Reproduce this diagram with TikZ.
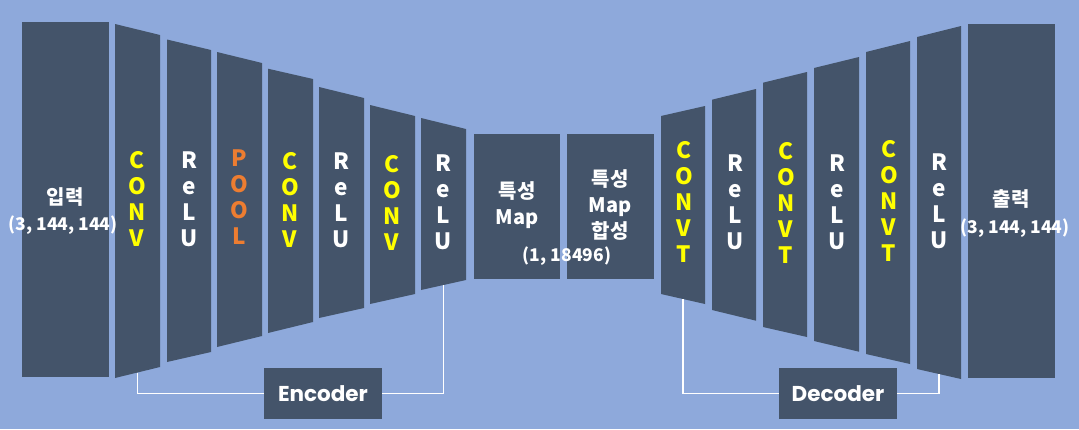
\documentclass[tikz,border=0pt]{standalone}
\usepackage{fontspec}
\setmainfont{Noto Sans CJK KR}
\newfontfamily\popfont{Poppins}
\usetikzlibrary{calc}
\definecolor{bg}{HTML}{8EA9DB}
\definecolor{boxc}{HTML}{44546A}
\definecolor{yel}{HTML}{FFFF00}
\definecolor{ora}{HTML}{ED7D31}
\newcommand\mytrap[7]{%
  \fill[boxc] (#2,#4) -- (#3,#6) -- (#3,#7) -- (#2,#5) -- cycle;
  \coordinate (#1-bl) at (#2,#5);
  \coordinate (#1-br) at (#3,#7);
  \coordinate (#1-b) at ($(#1-bl)!0.5!(#1-br)$);}
\begin{document}
\begin{tikzpicture}[x=1pt,y=-1pt,
  stackc/.style={font=\bfseries\fontsize{22.5}{26}\selectfont, align=center, inner sep=0pt, text=white},
  bigtxt/.style={font=\bfseries\fontsize{20}{26}\selectfont, align=center, inner sep=0pt, text=white},
  dimtxt/.style={font=\bfseries\fontsize{17.5}{20}\selectfont, inner sep=0pt, text=white},
  rectbox/.style={fill=boxc, inner sep=0pt},
  labbox/.style={fill=boxc, inner sep=0pt, minimum width=118pt, minimum height=51pt, text=white, font=\popfont\bfseries\fontsize{21.5}{24}\selectfont},
  brline/.style={draw=white, line width=1.1pt}]
\useasboundingbox (0,0) rectangle (1079,429);
\fill[bg] (0,0) rectangle (1079,429);

% input / output / middle boxes
\node[rectbox, minimum width=87pt, minimum height=355pt] (inbox) at (65.5,199.5) {};
\node[rectbox, minimum width=87pt, minimum height=354pt] (outbox) at (1011.5,201) {};
\node[rectbox, minimum width=86pt, minimum height=145pt] (fmap) at (517,206.5) {};
\node[rectbox, minimum width=87pt, minimum height=145pt] (fsum) at (610.5,206.5) {};

% encoder trapezoids
\mytrap{t1}{115}{160}{24}{378}{35}{367}
\mytrap{t2}{167}{211}{39.5}{362}{50}{352}
\mytrap{t3}{217}{262}{52}{347}{63}{336}
\mytrap{t4}{268}{313}{68.7}{333}{79}{322}
\mytrap{t5}{319}{364}{87}{318}{98}{308}
\mytrap{t6}{370}{415}{105}{304}{116}{294}
\mytrap{t7}{421}{466}{118}{290}{129}{280}
% decoder trapezoids
\mytrap{t8}{661}{705}{116}{294}{106}{304}
\mytrap{t9}{712}{756}{99.7}{310}{89}{320.7}
\mytrap{t10}{763}{807}{82.7}{327}{72}{337}
\mytrap{t11}{814}{859}{68}{341}{57}{351.7}
\mytrap{t12}{866}{910}{52}{354}{41}{364}
\mytrap{t13}{917}{961}{37}{369}{26}{379}

% layer labels
\node[stackc, text=yel] (l1) at (137,199) {C\\O\\N\\V};
\node[stackc] (l2) at (189,199.5) {R\\e\\L\\U};
\node[stackc, text=ora] (l3) at (239,197.5) {P\\O\\O\\L};
\node[stackc, text=yel] (l4) at (290,199.5) {C\\O\\N\\V};
\node[stackc] (l5) at (341,200) {R\\e\\L\\U};
\node[stackc, text=yel] (l6) at (392,202.5) {C\\O\\N\\V};
\node[stackc] (l7) at (443,202.5) {R\\e\\L\\U};
\node[stackc, text=yel] (l8) at (684,202) {C\\O\\N\\V\\T};
\node[stackc] (l9) at (735,202.5) {R\\e\\L\\U};
\node[stackc, text=yel] (l10) at (786,203) {C\\O\\N\\V\\T};
\node[stackc] (l11) at (837,202.5) {R\\e\\L\\U};
\node[stackc, text=yel] (l12) at (889,201) {C\\O\\N\\V\\T};
\node[stackc] (l13) at (939,201) {R\\e\\L\\U};

% box texts
\node[bigtxt] (intxt) at (65,197) {입력};
\node[dimtxt] (indim) at (63,225) {(3, 144, 144)};
\node[bigtxt] (outtxt) at (1011,199) {출력};
\node[dimtxt] (outdim) at (1015,228) {(3, 144, 144)};
\node[bigtxt] (fmaptxt) at (517,205) {특성\\Map};
\node[bigtxt] (fsumtxt) at (610,205) {특성\\Map\\합성};
\node[dimtxt] (fdim) at (567,256) {(1, 18496)};

% encoder / decoder labels
\node[labbox] (enc) at (323,393.5) {Encoder};
\node[labbox] (dec) at (838,393.5) {Decoder};
\draw[brline] (t1-b) |- (enc.west);
\draw[brline] (enc.east) -| (t7-b);
\draw[brline] (t8-b) |- (dec.west);
\draw[brline] (dec.east) -| (t13-b);
\end{tikzpicture}
\end{document}
